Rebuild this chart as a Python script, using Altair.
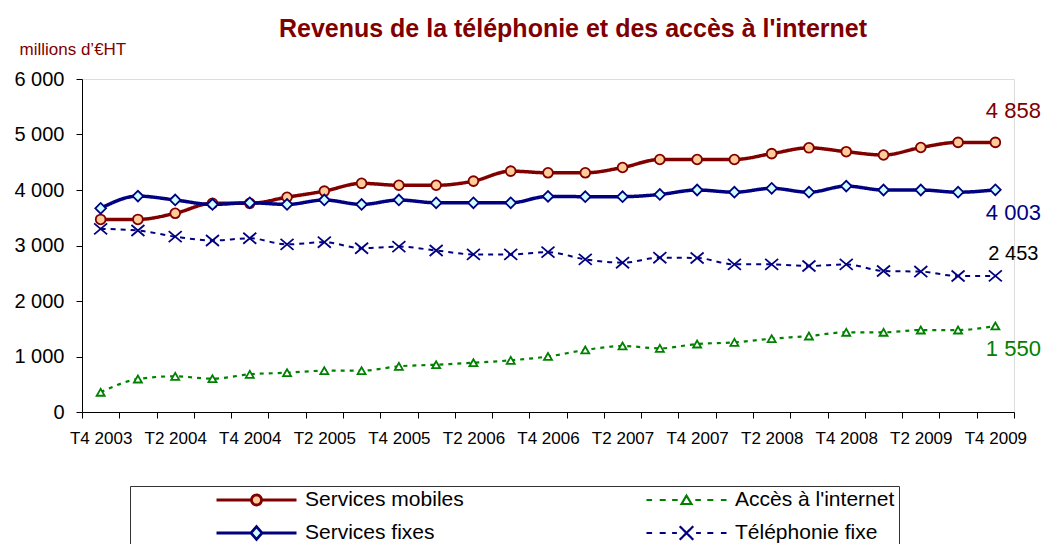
import json
import altair as alt
import pandas as pd

# ---------------- data ----------------
quarters = ["T4 2003", "T1 2004", "T2 2004", "T3 2004", "T4 2004", "T1 2005", "T2 2005",
            "T3 2005", "T4 2005", "T1 2006", "T2 2006", "T3 2006", "T4 2006", "T1 2007",
            "T2 2007", "T3 2007", "T4 2007", "T1 2008", "T2 2008", "T3 2008", "T4 2008",
            "T1 2009", "T2 2009", "T3 2009", "T4 2009"]

services_mobiles = [3470, 3470, 3580, 3760, 3760, 3870, 3980, 4120, 4085, 4085, 4160, 4340, 4310,
                    4310, 4405, 4550, 4550, 4550, 4655, 4760, 4690, 4630, 4765, 4858, 4858]
acces_internet = [355, 594, 643, 600, 679, 708, 744, 744, 823, 852, 888, 931, 1000,
                  1117, 1189, 1147, 1225, 1255, 1321, 1369, 1436, 1436, 1477, 1477, 1550]
services_fixes = [3670, 3890, 3820, 3740, 3770, 3740, 3820, 3740, 3820, 3770, 3770, 3770, 3885,
                  3880, 3880, 3920, 4000, 3960, 4030, 3960, 4070, 4000, 4000, 3960, 4003]
telephonie_fixe = [3300, 3270, 3160, 3090, 3130, 3020, 3060, 2950, 2980, 2910, 2840, 2840, 2880,
                   2750, 2690, 2780, 2775, 2660, 2660, 2630, 2660, 2540, 2530, 2450, 2453]

series_names = ["Services mobiles", "Services fixes", "Accès à l'internet", "Téléphonie fixe"]
series_values = [services_mobiles, services_fixes, acces_internet, telephonie_fixe]

rows = []
for name, vals in zip(series_names, series_values):
    for q, v in zip(quarters, vals):
        rows.append({"quarter": q, "series": name, "value": v})
df = pd.DataFrame(rows)

end_rows = []
for name, vals in zip(series_names, series_values):
    end_rows.append({"quarter": quarters[-1], "series": name, "value": vals[-1],
                     "label": f"{vals[-1]:,}".replace(",", " ")})
df_end = pd.DataFrame(end_rows)

# ---------------- styles (same order as series_names) ----------------
line_colors = ["#800000", "#000080", "#008000", "#000080"]
line_dashes = [[1, 0], [1, 0], [4, 5], [5, 5]]
line_widths = [3.5, 3.5, 2.2, 2.0]
marker_fills = ["#FFCC99", "#CCFFFF", "white", "transparent"]
X_PATH = "M-1,-0.85L1,0.85M-1,0.85L1,-0.85"
marker_shapes = ["circle", "diamond", "triangle-up", X_PATH]
marker_sizes = [95, 115, 64, 169]

legend_paths = [
    "M-1,0L-0.125,0M0.125,0L1,0M-0.125,0A0.125,0.125,0,1,1,0.125,0A0.125,0.125,0,1,1,-0.125,0Z",
    "M-1,0L-0.14,0M0.14,0L1,0M0,-0.16L0.14,0L0,0.16L-0.14,0Z",
    "M-1,0L-0.86,0M-0.67,0L-0.52,0M-0.36,0L-0.22,0M0.22,0L0.36,0M0.52,0L0.67,0M0.86,0L1,0"
    "M0,-0.11L0.125,0.1L-0.125,0.1Z",
    "M-1,0L-0.86,0M-0.67,0L-0.52,0M-0.36,0L-0.24,0M0.24,0L0.36,0M0.52,0L0.67,0M0.86,0L1,0"
    "M-0.17,-0.17L0.17,0.17M-0.17,0.17L0.17,-0.17",
]
legend_fills = ["#FFCC99", "#CCFFFF", "white", "transparent"]
legend_stroke_widths = [2.8, 2.8, 2.2, 2.2]


def pick(values):
    expr = ""
    for name, v in zip(series_names[:-1], values[:-1]):
        expr += f"datum.value === {json.dumps(name, ensure_ascii=False)} ? {json.dumps(v)} : "
    expr += json.dumps(values[-1])
    return expr


# reversed order for the channels that carry no legend (keeps them from merging with the legend)
rev_names = series_names[::-1]


def rev(values):
    return values[::-1]


FONT = "Liberation Sans"

x_enc = alt.X(
    "quarter:N", sort=quarters,
    scale=alt.Scale(type="band", paddingInner=0, paddingOuter=0),
    axis=alt.Axis(
        title=None, tickBand="extent", labelAngle=0, labelFontSize=17, labelFont=FONT,
        labelColor="black", tickSize=6, tickColor="black", domainColor="black",
        labelPadding=12, labelOverlap=False, grid=False,
        labelExpr="(indexof(datum.label, 'T2') == 0 || indexof(datum.label, 'T4') == 0) ? datum.label : ''",
    ),
)
y_enc = alt.Y(
    "value:Q",
    scale=alt.Scale(domain=[0, 6000], nice=False),
    axis=alt.Axis(
        values=[0, 1000, 2000, 3000, 4000, 5000, 6000],
        labelExpr="replace(format(datum.value, ','), ',', ' ')",
        labelFontSize=20, labelFont=FONT, labelColor="black", tickSize=6, tickColor="black",
        domainColor="black", labelPadding=12, grid=False,
        title="millions d’€HT", titleAngle=0, titleX=-63, titleY=-25, titleAlign="left",
        titleBaseline="alphabetic", titleFont=FONT, titleFontSize=17, titleFontWeight="normal",
        titleColor="#800000",
    ),
)

base = alt.Chart(df)

lines = base.mark_line(interpolate="monotone").encode(
    x=x_enc, y=y_enc,
    color=alt.Color("series:N", scale=alt.Scale(domain=rev_names, range=rev(line_colors)), legend=None),
    strokeDash=alt.StrokeDash("series:N", scale=alt.Scale(type="ordinal", domain=rev_names, range=rev(line_dashes)), legend=None),
    strokeWidth=alt.StrokeWidth("series:N", scale=alt.Scale(type="ordinal", domain=rev_names, range=rev(line_widths)), legend=None),
)

legend = alt.Legend(
    title=" ", titleOrient="left", titlePadding=81, titleFontSize=11,
    orient="none", legendX=48, legendY=407,
    columns=2, columnPadding=181, rowPadding=12, clipHeight=20,
    symbolSize=6400, symbolOffset=31,
    labelFontSize=21, labelFont=FONT, labelColor="black", labelOffset=38,
    labelLimit=600, strokeColor="#333333", fillColor="white", padding=4,
    labelExpr="indexof(datum.label, 'Acc') == 0 ? datum.label + '              ' : datum.label",
    symbolType={"expr": pick(legend_paths)},
    symbolFillColor={"expr": pick(legend_fills)},
    symbolStrokeColor={"expr": pick(line_colors)},
    symbolStrokeWidth={"expr": pick(legend_stroke_widths)},
    symbolOpacity=1,
    symbolDash=[1, 0],
)

points = base.mark_point(opacity=1, strokeWidth=1.8).encode(
    x=x_enc, y=y_enc,
    fill=alt.Fill("series:N", scale=alt.Scale(domain=series_names, range=marker_fills), legend=legend),
    stroke=alt.Stroke("series:N", scale=alt.Scale(domain=rev_names, range=rev(line_colors)), legend=None),
    shape=alt.Shape("series:N", scale=alt.Scale(domain=rev_names, range=rev(marker_shapes)), legend=None),
    size=alt.Size("series:N", scale=alt.Scale(type="ordinal", domain=rev_names, range=rev(marker_sizes)), legend=None),
)

end_base = alt.Chart(df_end)
label_styles = [
    ("Services mobiles", "#800000", 22, -31),
    ("Services fixes", "#000080", 22, 23),
    ("Téléphonie fixe", "black", 20, -22),
    ("Accès à l'internet", "#008000", 22, 23),
]
label_layers = []
for name, color, fs, dy in label_styles:
    label_layers.append(
        end_base.transform_filter(alt.datum.series == name)
        .mark_text(align="center", baseline="middle", dx=18, dy=dy, fontSize=fs, font=FONT, color=color)
        .encode(x=alt.X("quarter:N", sort=quarters), y=alt.Y("value:Q"), text="label:N")
    )

chart = alt.layer(lines, points, *label_layers).properties(
    width=932, height=333,
    autosize=alt.AutoSizeParams(type="none"),
    padding={"left": 74, "top": 71, "right": 29, "bottom": 132},
    title=alt.TitleParams(
        "Revenus de la téléphonie et des accès à l'internet",
        fontSize=25, font=FONT, fontWeight="bold", color="#800000",
        anchor="middle", dx=25, dy=29, offset=7, baseline="alphabetic",
    ),
).configure_view(stroke=None).configure(background="white", font=FONT)

chart.save("out.html", embed_options={"renderer": "svg", "actions": False})
